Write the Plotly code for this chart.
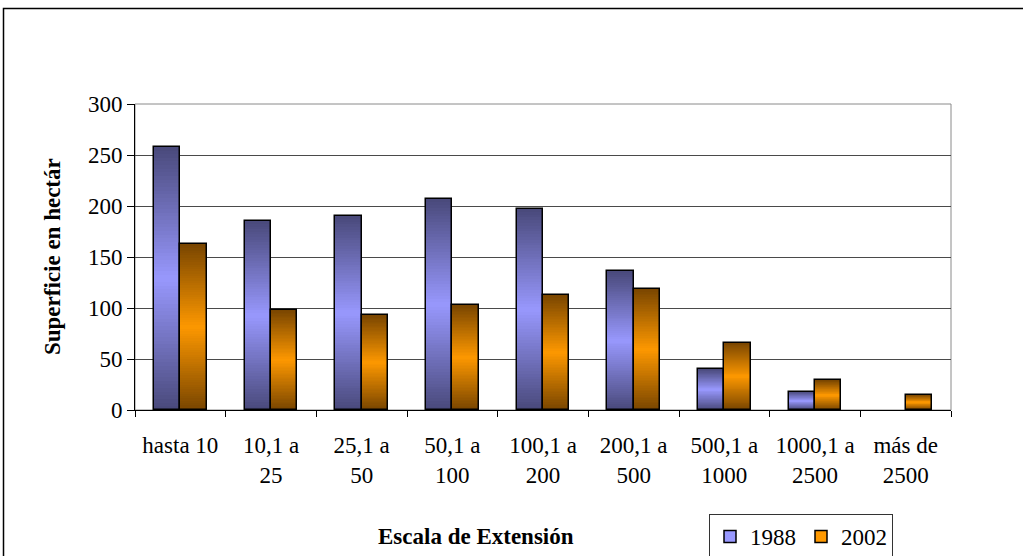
import plotly.graph_objects as go

# Superficie por escala de extensión, censos 1988 y 2002
categorias = ["hasta 10", "10,1 a<br>25", "25,1 a<br>50", "50,1 a<br>100", "100,1 a<br>200",
              "200,1 a<br>500", "500,1 a<br>1000", "1000,1 a<br>2500", "más de<br>2500"]
valores_1988 = [258, 185, 190, 207, 197, 136, 40, 18, None]
valores_2002 = [163, 98, 93, 103, 113, 119, 66, 29, 15]
anios = ["1988", "2002"]

FUENTE = "Liberation Serif"
W, H = 1023, 556
ML, MR, MT, MB = 135, W - 951, 104, H - 410
PW, PH = W - ML - MR, H - MT - MB

series = [
    (anios[0], valores_1988, (74, 74, 124), (153, 153, 255), -0.29),
    (anios[1], valores_2002, (122, 70, 0), (255, 153, 0), 0.0),
]
ANCHO = 0.29
PASOS = 36

def mezcla(c1, c2, t):
    return "rgb({},{},{})".format(*[round(a + (b - a) * t) for a, b in zip(c1, c2)])

def escala(vals, f):
    return [None if v is None else v * f for v in vals]

fig = go.Figure()
for nombre, vals, oscuro, claro, desp in series:
    # degradado vertical: bandas anidadas, oscuras en los extremos y claras al centro
    for k in range(PASOS, 0, -1):
        d = 0.5 * k / PASOS
        t = 1 - k / PASOS
        fig.add_trace(go.Bar(
            x=categorias, y=escala(vals, 2 * d), base=escala(vals, 0.5 - d),
            width=ANCHO, offset=desp, marker=dict(color=mezcla(oscuro, claro, t), line=dict(width=0)),
            showlegend=False, hoverinfo="skip"))
    # contorno de cada barra
    fig.add_trace(go.Bar(
        x=categorias, y=vals, width=ANCHO, offset=desp, name=nombre,
        marker=dict(color="rgba(0,0,0,0)", line=dict(color="black", width=1.5)),
        showlegend=False))
    # entrada de leyenda
    fig.add_trace(go.Bar(
        x=[None], y=[None], name=nombre,
        marker=dict(color=mezcla(oscuro, claro, 1), line=dict(color="black", width=1.5))))

def px_x(p):
    return (p - ML) / PW

def px_y(p):
    return (H - MB - p) / PH

fig.update_layout(
    width=W, height=H, margin=dict(l=ML, r=MR, t=MT, b=MB, autoexpand=False),
    paper_bgcolor="white", plot_bgcolor="white",
    barmode="overlay", bargap=0,
    font=dict(family=FUENTE, size=23, color="black"),
    xaxis=dict(type="category", showline=True, linecolor="black", linewidth=1,
               ticks="outside", tickson="boundaries", ticklen=6, tickcolor="black",
               showgrid=False, automargin=False, ticklabelstandoff=14,
               tickfont=dict(family=FUENTE, size=23)),
    yaxis=dict(range=[0, 300], dtick=50, showline=True, linecolor="black", linewidth=1,
               ticks="outside", ticklen=7, tickcolor="black", automargin=False,
               showgrid=True, gridcolor="#4a4a4a", gridwidth=1, zeroline=False,
               tickfont=dict(family=FUENTE, size=23)),
    legend=dict(orientation="h", x=px_x(709), y=px_y(514), xanchor="left", yanchor="top",
                bordercolor="#333", borderwidth=1, font=dict(family=FUENTE, size=23),
                traceorder="normal"),
    shapes=[
        dict(type="rect", xref="paper", yref="paper", x0=0, x1=1, y0=0, y1=1,
             line=dict(color="#8a8a8a", width=1), layer="below"),
        dict(type="rect", xref="paper", yref="paper", x0=px_x(3.5), x1=px_x(1040),
             y0=px_y(580), y1=px_y(8.5), line=dict(color="black", width=1.5)),
    ],
    annotations=[
        dict(text="<b>Superficie en hectár</b>", textangle=-90, xref="paper", yref="paper",
             x=px_x(52), y=0.5, xanchor="center", yanchor="middle", showarrow=False,
             font=dict(family=FUENTE, size=23)),
        dict(text="<b>Escala de Extensión</b>", xref="paper", yref="paper",
             x=px_x(476), y=px_y(536), xanchor="center", yanchor="middle", showarrow=False,
             font=dict(family=FUENTE, size=23)),
    ],
)

fig.write_html("out.html")
